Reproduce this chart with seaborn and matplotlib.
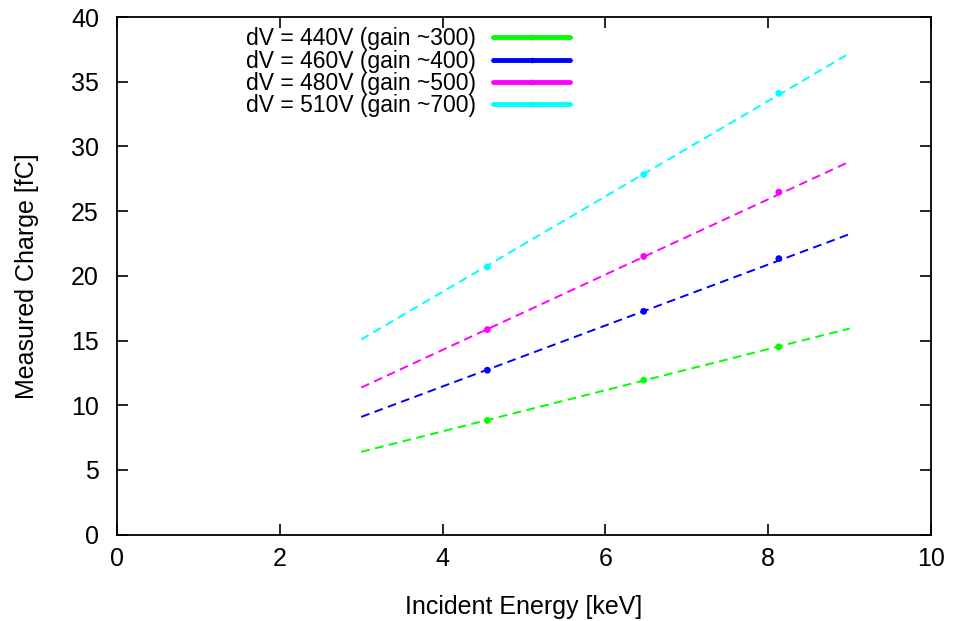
import matplotlib.pyplot as plt
import seaborn as sns
import pandas as pd
from matplotlib.lines import Line2D

# measured points
energy = [4.55, 6.47, 8.13]
charge_440 = [8.83, 11.94, 14.51]
charge_460 = [12.71, 17.26, 21.33]
charge_480 = [15.85, 21.50, 26.47]
charge_510 = [20.68, 27.83, 34.10]

# fitted lines, end points
fit_energy = [3.0, 9.0]
fit_440 = [6.40, 15.93]
fit_460 = [9.10, 23.23]
fit_480 = [11.37, 28.83]
fit_510 = [15.08, 37.20]

labels = ["dV = 440V (gain ~300)", "dV = 460V (gain ~400)",
          "dV = 480V (gain ~500)", "dV = 510V (gain ~700)"]
colors = ["#00ff00", "#0000ff", "#ff00ff", "#00ffff"]

points = pd.concat([
    pd.DataFrame({"energy": energy, "charge": c, "series": lab})
    for c, lab in zip([charge_440, charge_460, charge_480, charge_510], labels)
])
fits = pd.concat([
    pd.DataFrame({"energy": fit_energy, "charge": c, "series": lab})
    for c, lab in zip([fit_440, fit_460, fit_480, fit_510], labels)
])

sns.set_theme(style="white")
plt.rcParams["font.family"] = ["Liberation Sans", "DejaVu Sans"]
plt.rcParams["text.color"] = "black"
plt.rcParams["axes.labelcolor"] = "black"
plt.rcParams["xtick.color"] = "black"
plt.rcParams["ytick.color"] = "black"

FS = 18

fig = plt.figure(figsize=(9.54, 6.21), dpi=100)
ax = fig.add_axes([0.1226, 0.139, 0.8534, 0.8336])

palette = dict(zip(labels, colors))
sns.lineplot(data=fits, x="energy", y="charge", hue="series", palette=palette,
             ax=ax, linewidth=1.4, legend=False)
for line in ax.get_lines():
    line.set_dashes((4.5, 2.8))
sns.scatterplot(data=points, x="energy", y="charge", hue="series", palette=palette,
                ax=ax, s=24, edgecolor="none", legend=False, zorder=3)

ax.set_xlim(0, 10)
ax.set_ylim(0, 40)
ax.set_xticks(range(0, 11, 2))
ax.set_yticks(range(0, 41, 5))
ax.set_xlabel("Incident Energy [keV]", fontsize=FS, labelpad=17)
ax.set_ylabel("Measured Charge [fC]", fontsize=FS, labelpad=23)
ax.tick_params(direction="in", length=8, width=1.2, labelsize=FS,
               bottom=True, left=True, top=True, right=True, pad=9)
ax.tick_params(axis="y", pad=13)
for sp in ax.spines.values():
    sp.set_color("black")
    sp.set_linewidth(1.3)

handles = [Line2D([0, 0.5, 1], [0, 0, 0], color=c, lw=3.5, marker="o",
                  markersize=4, markevery=[1], markeredgewidth=0) for c in colors]
leg = ax.legend(handles, labels, loc="upper right", bbox_to_anchor=(0.5565, 0.98),
                frameon=False, fontsize=16.5, markerfirst=False, handlelength=3.36,
                handletextpad=0.75, labelspacing=-0.03, borderpad=0,
                borderaxespad=0)

fig.savefig("out.png", dpi=100)
